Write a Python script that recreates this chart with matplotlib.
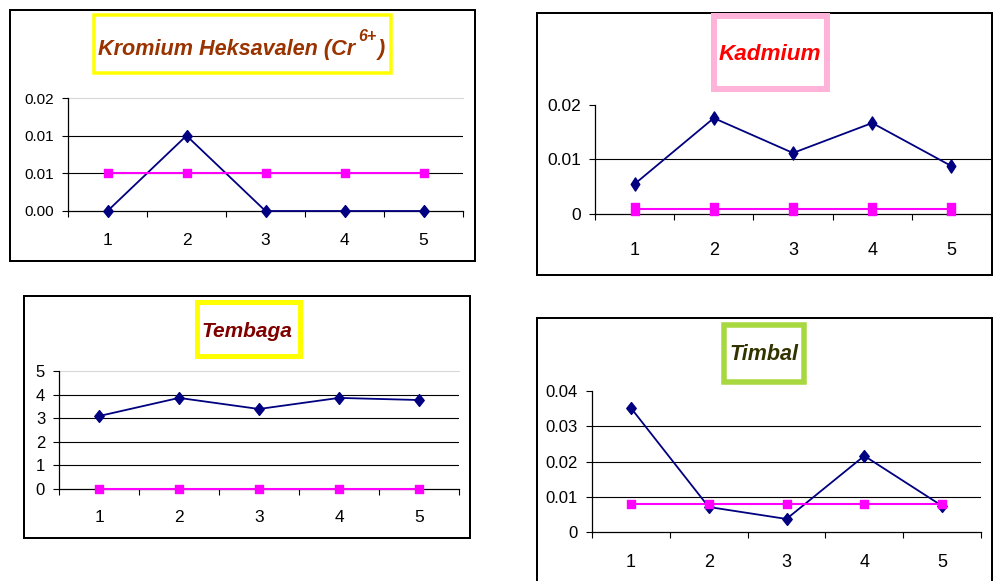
import matplotlib
matplotlib.use("Agg")
import matplotlib.pyplot as plt
from matplotlib import font_manager as fm
from matplotlib.patches import Rectangle
from matplotlib.path import Path
from matplotlib.ticker import FixedLocator, FixedFormatter, NullFormatter


def pick_font(*names):
    for n in names:
        try:
            fm.findfont(fm.FontProperties(family=n), fallback_to_default=False)
            return n
        except ValueError:
            pass
    return "DejaVu Sans"


FONT = pick_font("Liberation Sans", "Arial")
plt.rcParams["font.family"] = [FONT, "DejaVu Sans"]

# ---- data -----------------------------------------------------------------
cats = [1, 2, 3, 4, 5]
cat_labels = ["1", "2", "3", "4", "5"]

kromium_sampel = [0.0, 0.010, 0.0, 0.0, 0.0]
kromium_baku = [0.005, 0.005, 0.005, 0.005, 0.005]
kromium_yticks = [0.0, 0.005, 0.010, 0.015]
kromium_ylabels = ["0.00", "0.01", "0.01", "0.02"]

kadmium_sampel = [0.0055, 0.0176, 0.0112, 0.0167, 0.0088]
kadmium_baku = [0.001, 0.001, 0.001, 0.001, 0.001]
kadmium_yticks = [0.0, 0.01, 0.02]
kadmium_ylabels = ["0", "0.01", "0.02"]

tembaga_sampel = [3.09, 3.86, 3.39, 3.86, 3.77]
tembaga_baku = [0.02, 0.02, 0.02, 0.02, 0.02]
tembaga_yticks = [0, 1, 2, 3, 4, 5]
tembaga_ylabels = ["0", "1", "2", "3", "4", "5"]

timbal_sampel = [0.0352, 0.0071, 0.0037, 0.0216, 0.0074]
timbal_baku = [0.008, 0.008, 0.008, 0.008, 0.008]
timbal_yticks = [0.0, 0.01, 0.02, 0.03, 0.04]
timbal_ylabels = ["0", "0.01", "0.02", "0.03", "0.04"]

# ---- figure ---------------------------------------------------------------
W, H = 994, 581
fig = plt.figure(figsize=(W / 100, H / 100), dpi=100)
fig.patch.set_facecolor("white")

NAVY = "#000080"
MAGENTA = "#FF00FF"


def px_rect(x0, y0, x1, y1):
    return [x0 / W, 1 - y1 / H, (x1 - x0) / W, (y1 - y0) / H]


def diamond(aspect):
    return Path([(0, 1), (aspect, 0), (0, -1), (-aspect, 0), (0, 1)],
                [Path.MOVETO, Path.LINETO, Path.LINETO, Path.LINETO, Path.CLOSEPOLY])


def block(aspect):
    return Path([(-aspect, -1), (aspect, -1), (aspect, 1), (-aspect, 1), (-aspect, -1)],
                [Path.MOVETO, Path.LINETO, Path.LINETO, Path.LINETO, Path.CLOSEPOLY])


def box(x0, y0, x1, y1, color, thick_px, face="none"):
    lw = thick_px * 0.72
    h = thick_px / 2
    r = Rectangle(((x0 + h) / W, 1 - (y1 - h) / H), (x1 - x0 - thick_px) / W,
                  (y1 - y0 - thick_px) / H, transform=fig.transFigure,
                  facecolor=face, edgecolor=color, lw=lw, zorder=5)
    fig.add_artist(r)


def panel(frame, tbox, bcolor, bthick, axbox, sampel, baku,
          yticks, ylabels, ytop, black_grid, top_grid, ysize, xsize,
          xpad, dia_ms, dia_aspect, sq_ms, sq_aspect):
    box(*frame, "black", 2)
    box(*tbox, bcolor, bthick, face="white")

    ax = fig.add_axes(px_rect(*axbox))
    ax.set_facecolor("none")
    ax.set_xlim(0.5, 5.5)
    ax.set_ylim(0, ytop)
    for s in ("top", "right"):
        ax.spines[s].set_visible(False)
    for s in ("left", "bottom"):
        ax.spines[s].set_color("black")
        ax.spines[s].set_linewidth(0.9)

    for v in black_grid:
        ax.axhline(v, color="black", lw=0.8, zorder=1)
    if top_grid:
        ax.axhline(ytop, color="#d8d8d8", lw=0.8, zorder=1, clip_on=False)

    ax.plot(cats, sampel, color=NAVY, lw=1.3, marker=diamond(dia_aspect),
            ms=dia_ms, mfc=NAVY, mec=NAVY, zorder=3, clip_on=False)
    ax.plot(cats, baku, color=MAGENTA, lw=1.5, marker=block(sq_aspect), ms=sq_ms,
            mfc=MAGENTA, mec=MAGENTA, zorder=4, clip_on=False)

    ax.yaxis.set_major_locator(FixedLocator(yticks))
    ax.yaxis.set_major_formatter(FixedFormatter(ylabels))
    ax.tick_params(axis="y", direction="out", length=4, width=0.8,
                   pad=6, labelsize=ysize, colors="black")

    ax.xaxis.set_major_locator(FixedLocator([0.5, 1.5, 2.5, 3.5, 4.5, 5.5]))
    ax.xaxis.set_major_formatter(NullFormatter())
    ax.xaxis.set_minor_locator(FixedLocator(cats))
    ax.xaxis.set_minor_formatter(FixedFormatter(cat_labels))
    ax.tick_params(axis="x", which="major", direction="out", length=4.5, width=0.8)
    ax.tick_params(axis="x", which="minor", length=0, pad=xpad,
                   labelsize=xsize, colors="black")
    return ax


def title(x, y, s, color, size, ha="center"):
    return fig.text(x / W, 1 - y / H, s, color=color, fontsize=size,
                    fontweight="bold", fontstyle="italic", ha=ha,
                    va="baseline", zorder=6)


# Kromium Heksavalen
panel((9, 9, 476, 262), (92, 13, 393, 75), "#FFFF00", 3.5,
      (68, 98, 463, 211), kromium_sampel, kromium_baku,
      kromium_yticks, kromium_ylabels, 0.015, [0.005, 0.010], True,
      11, 12.5, 16, 8.5, 0.8, 5.4, 1.0)

# Kadmium
panel((536, 12, 993, 276), (711, 13, 830, 92), "#FFB3D9", 6,
      (595, 105, 991, 214), kadmium_sampel, kadmium_baku,
      kadmium_yticks, kadmium_ylabels, 0.02, [0.01], False,
      12.5, 13, 20, 9.5, 0.65, 9, 0.6)

# Tembaga
panel((23, 295, 471, 539), (194, 299, 302, 358), "#FFFF00", 5,
      (59, 371, 459, 489), tembaga_sampel, tembaga_baku,
      tembaga_yticks, tembaga_ylabels, 5, [1, 2, 3, 4], True,
      12, 12.5, 15, 8.5, 0.8, 5.4, 1.0)

# Timbal
panel((536, 317, 993, 590), (721, 322, 807, 385), "#A8D840", 5.5,
      (592, 391, 981, 532), timbal_sampel, timbal_baku,
      timbal_yticks, timbal_ylabels, 0.04, [0.01, 0.02, 0.03], False,
      12, 13, 16, 8.5, 0.8, 5.4, 1.0)

# Titles
fig.canvas.draw()
renderer = fig.canvas.get_renderer()

KROM = "#993300"
kt = title(98, 54.5, "Kromium Heksavalen (Cr", KROM, 15.6, ha="left")
bb = kt.get_window_extent(renderer)
sup = fig.text((bb.x1 + 3) / W, 1 - 41 / H, "6+", color=KROM, fontsize=11.5,
               fontweight="bold", fontstyle="italic", ha="left",
               va="baseline", zorder=6)
bb2 = sup.get_window_extent(renderer)
fig.text((bb2.x1 + 2) / W, 1 - 54.5 / H, ")", color=KROM, fontsize=15.6,
         fontweight="bold", fontstyle="italic", ha="left", va="baseline",
         zorder=6)

title(770, 59.5, "Kadmium", "#FF0000", 16.2)
title(247, 337, "Tembaga", "#800000", 15)
title(764, 360, "Timbal", "#333300", 15.5)

fig.savefig("out.png", dpi=100)
